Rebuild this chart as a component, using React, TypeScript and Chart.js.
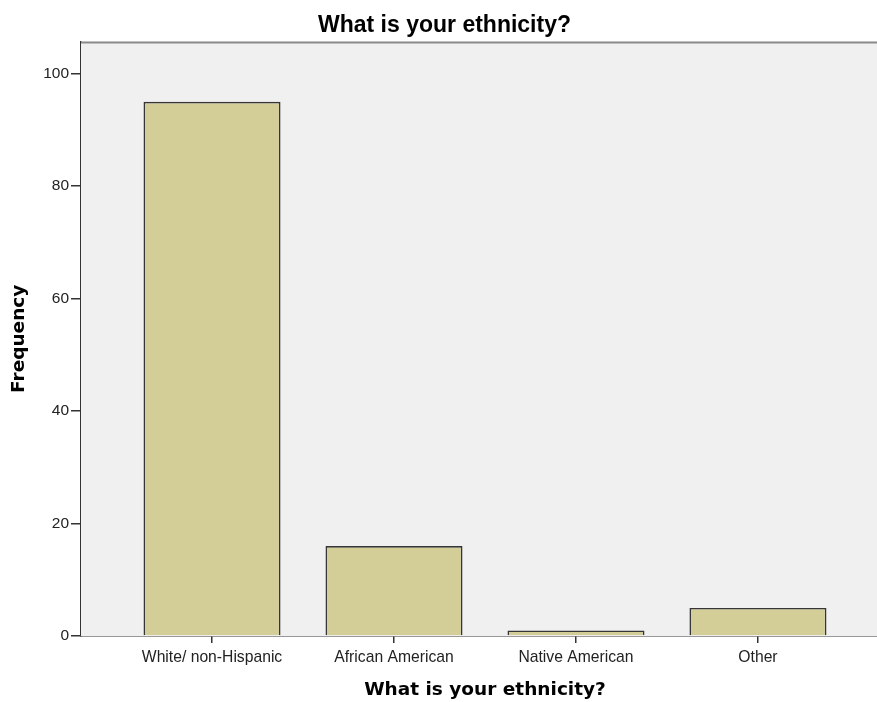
import React, { useEffect, useRef } from "react";
import { Chart, registerables } from "chart.js";

Chart.register(...registerables);

const categories = ["White/ non-Hispanic", "African American", "Native American", "Other"];
const frequencies = [95, 16, 1, 5];
const yTicks = [0, 20, 40, 60, 80, 100];
const chartTitle = "What is your ethnicity?";
const xTitle = "What is your ethnicity?";
const yTitle = "Frequency";

const plotBg = {
  id: "plotBg",
  beforeDatasetsDraw(chart: any) {
    const { ctx, chartArea } = chart;
    ctx.save();
    ctx.fillStyle = "#F0F0F0";
    ctx.fillRect(chartArea.left, chartArea.top, chartArea.right - chartArea.left, chartArea.bottom - chartArea.top);
    ctx.restore();
  },
  afterDraw(chart: any) {
    const { ctx, chartArea } = chart;
    ctx.save();
    ctx.strokeStyle = "#8a8a8a";
    ctx.lineWidth = 2;
    ctx.beginPath();
    ctx.moveTo(chartArea.left, chartArea.top + 1);
    ctx.lineTo(chartArea.right, chartArea.top + 1);
    ctx.stroke();
    ctx.restore();
  },
};

export default function App() {
  const ref = useRef<HTMLCanvasElement | null>(null);
  useEffect(() => {
    if (!ref.current) return;
    const chart = new Chart(ref.current, {
      type: "bar",
      data: {
        datasets: [
          {
            data: frequencies.map((v, i) => ({ x: i, y: v })),
            backgroundColor: "#D3CE98",
            borderColor: "#363636",
            borderWidth: 1.7,
            categoryPercentage: 1,
            barPercentage: 0.753,
          },
        ],
      },
      options: {
        animation: false,
        responsive: false,
        devicePixelRatio: 1,
        layout: { padding: { left: 0, right: 6, top: 0, bottom: 0 } },
        plugins: {
          legend: { display: false },
          tooltip: { enabled: false },
          title: {
            display: true,
            text: chartTitle,
            color: "#000",
            font: { family: "'Liberation Sans', Arial, sans-serif", size: 23, weight: "bold" },
            padding: { top: 12, bottom: 2 },
          },
        },
        scales: {
          x: {
            type: "linear",
            offset: false,
            min: -0.72,
            max: 3.72,
            afterBuildTicks: (scale: any) => {
              scale.ticks = categories.map((_, i) => ({ value: i }));
            },
            afterFit: (scale: any) => {
              scale.height = 66;
            },
            ticks: {
              callback: (v: any) => categories[Math.round(Number(v))] ?? "",
              color: "#222",
              font: { family: "'Liberation Sans', Arial, sans-serif", size: 15.7 },
              padding: 5,
              maxRotation: 0,
              autoSkip: false,
            },
            grid: { offset: false, drawOnChartArea: false, drawTicks: true, tickLength: 7, color: "#333", lineWidth: 1.5 },
            border: { display: true, color: "#333", width: 1.5 },
            title: {
              display: true,
              text: xTitle,
              color: "#000",
              font: { family: "'DejaVu Sans', Verdana, sans-serif", size: 18.5, weight: "bold" },
              padding: { top: 0, bottom: 1 },
            },
          },
          y: {
            min: 0,
            max: 105.7,
            afterBuildTicks: (scale: any) => {
              scale.ticks = yTicks.map((v) => ({ value: v }));
            },
            afterFit: (scale: any) => {
              scale.width = 81;
            },
            ticks: {
              color: "#222",
              font: { family: "'Liberation Sans', Arial, sans-serif", size: 15.5 },
              padding: 2,
            },
            grid: { drawOnChartArea: false, drawTicks: true, tickLength: 10, color: "#333", lineWidth: 1.5 },
            border: { display: true, color: "#333", width: 1.5 },
            title: {
              display: true,
              text: yTitle,
              color: "#000",
              font: { family: "'DejaVu Sans', Verdana, sans-serif", size: 18.5, weight: "bold" },
              padding: { top: 8, bottom: 0 },
            },
          },
        },
      },
      plugins: [plotBg],
    } as any);
    return () => chart.destroy();
  }, []);
  return (
    <div style={{ position: "fixed", left: 0, top: 0, width: 877, height: 702, overflow: "hidden", background: "#fff" }}>
      <canvas ref={ref} width={895} height={702} style={{ display: "block", width: 895, height: 702 }} />
    </div>
  );
}
